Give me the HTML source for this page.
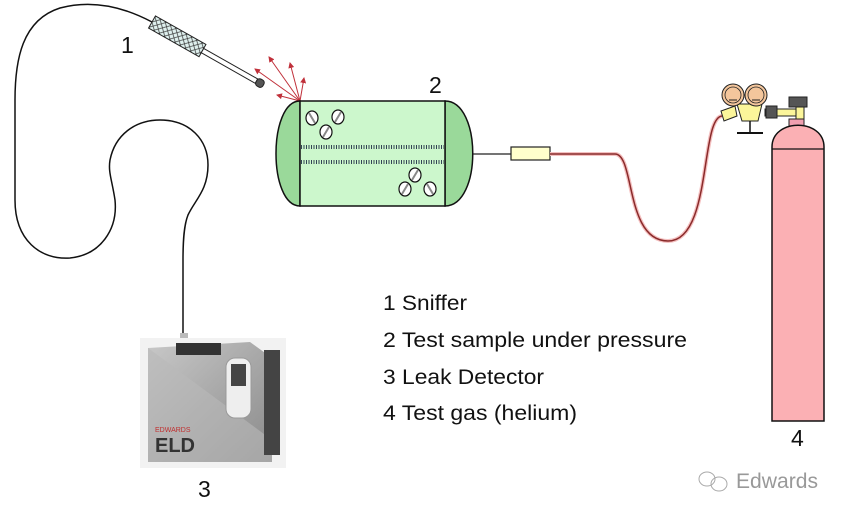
<!DOCTYPE html>
<html><head><meta charset="utf-8"><style>
html,body{margin:0;padding:0;background:#fff;}
svg{display:block;font-family:"Liberation Sans",sans-serif;}
</style></head><body>
<svg width="847" height="515" viewBox="0 0 847 515" xmlns="http://www.w3.org/2000/svg">
<defs>
<pattern id="hatch" width="6" height="6" patternUnits="userSpaceOnUse"><path d="M0,0L6,6M6,0L0,6" stroke="#333" stroke-width="0.7"/></pattern>
<linearGradient id="gb" x1="0" y1="0" x2="1" y2="1"><stop offset="0" stop-color="#c8c8c8"/><stop offset="0.5" stop-color="#a8a8a8"/><stop offset="1" stop-color="#8a8a8a"/></linearGradient>
<marker id="ar" markerWidth="6" markerHeight="6" refX="5" refY="3" orient="auto"><path d="M0,0L6,3L0,6z" fill="#c0303a"/></marker>
</defs>
<path d="M152,22 C120,5 90,0 60,8 C22,20 15,60 15,100 L15,200 C15,240 40,260 70,258 C100,255 118,230 115,200 C112,180 108,172 110,160 C115,135 135,120 160,120 C190,120 208,140 208,165 C208,190 195,200 188,215 C184,225 183,240 183,260 L183,335" fill="none" stroke="#111" stroke-width="1.5"/>
<g transform="translate(152,22) rotate(29.5)">
<rect x="0" y="-7" width="58" height="14" fill="#dff0ee"/><rect x="0" y="-7" width="58" height="14" fill="url(#hatch)" stroke="#222" stroke-width="1"/>
<rect x="58" y="-2.5" width="62" height="5" fill="#fff" stroke="#222" stroke-width="1"/>
<rect x="120" y="-4" width="8" height="8" rx="3" fill="#555" stroke="#222"/>
</g>
<g stroke="#c0303a" stroke-width="1" marker-end="url(#ar)">
<line x1="300" y1="101" x2="277" y2="95"/><line x1="300" y1="101" x2="255" y2="69"/>
<line x1="300" y1="101" x2="269" y2="57"/><line x1="300" y1="101" x2="290" y2="63"/>
<line x1="300" y1="101" x2="304" y2="78"/>
</g>
<path d="M300,101 C268,101 268,206 300,206 Z" fill="#9ad99a" stroke="#111" stroke-width="1.5"/>
<path d="M445,101 C482,101 482,206 445,206 Z" fill="#9ad99a" stroke="#111" stroke-width="1.5"/>
<rect x="300" y="101" width="145" height="105" fill="#ccf7cc" stroke="#111" stroke-width="1.5"/>
<line x1="301" y1="147" x2="444" y2="147" stroke="#345" stroke-width="4" stroke-dasharray="1 1.5"/>
<line x1="301" y1="162" x2="444" y2="162" stroke="#345" stroke-width="4" stroke-dasharray="1 1.5"/>
<g fill="#fff" stroke="#111" stroke-width="1.2">
<ellipse cx="312" cy="118" rx="6" ry="7"/><ellipse cx="338" cy="117" rx="6" ry="7"/><ellipse cx="326" cy="132" rx="6" ry="7"/>
<ellipse cx="415" cy="175" rx="6" ry="7"/><ellipse cx="405" cy="189" rx="6" ry="7"/><ellipse cx="430" cy="189" rx="6" ry="7"/>
</g>
<g stroke="#888" stroke-width="2">
<line x1="309" y1="113" x2="315" y2="123"/><line x1="341" y1="112" x2="335" y2="122"/><line x1="329" y1="127" x2="323" y2="137"/>
<line x1="418" y1="170" x2="412" y2="180"/><line x1="408" y1="184" x2="402" y2="194"/><line x1="427" y1="184" x2="433" y2="194"/>
</g>
<line x1="473" y1="154" x2="511" y2="154" stroke="#222" stroke-width="1.2"/>
<rect x="511" y="147" width="39" height="13" fill="#ffffcc" stroke="#222" stroke-width="1.2"/>
<path d="M550,154 L615,154 C635,154 625,241 668,241 C712,241 700,118 722,116" fill="none" stroke="#f4c0c0" stroke-width="4"/>
<path d="M550,154 L615,154 C635,154 625,241 668,241 C712,241 700,118 722,116" fill="none" stroke="#8a2a2a" stroke-width="1.5"/>
<polygon points="721,111 735,106 737,116 724,121" fill="#fbf59a" stroke="#222"/>
<rect x="765" y="109" width="31" height="7" fill="#fbf59a" stroke="#222"/>
<rect x="766" y="106" width="11" height="12" fill="#555" stroke="#222"/>
<rect x="796" y="106" width="8" height="14" fill="#fbf59a" stroke="#222"/>
<rect x="789" y="97" width="18" height="10" fill="#555" stroke="#222"/>
<polygon points="737,104 762,104 758,121 742,121" fill="#fbf59a" stroke="#222"/>
<line x1="750" y1="121" x2="750" y2="133" stroke="#111" stroke-width="1.5"/>
<line x1="737" y1="133" x2="763" y2="133" stroke="#111" stroke-width="2"/>
<circle cx="733" cy="95" r="11" fill="#f4c69c" stroke="#222"/><circle cx="756" cy="95" r="11" fill="#f4c69c" stroke="#222"/>
<circle cx="733" cy="95" r="8" fill="none" stroke="#222" stroke-width="0.8"/><circle cx="756" cy="95" r="8" fill="none" stroke="#222" stroke-width="0.8"/>
<line x1="729" y1="100" x2="737" y2="100" stroke="#222"/><line x1="752" y1="100" x2="760" y2="100" stroke="#222"/>
<rect x="789" y="119" width="15" height="8" fill="#f0a0b0" stroke="#222"/>
<path d="M772,421 L772,147 C772,118 824,118 824,147 L824,421 Z" fill="#fbb0b4" stroke="#111" stroke-width="1.5"/>
<line x1="772" y1="149" x2="824" y2="149" stroke="#111" stroke-width="1.2"/>
<rect x="180" y="333" width="8" height="8" fill="#bbb"/>
<rect x="140" y="338" width="146" height="130" fill="#f2f2f2"/>
<path d="M148,348 L250,342 L272,358 L272,462 L148,462 Z" fill="url(#gb)"/>
<path d="M148,348 L272,440 L272,462 L148,462 Z" fill="#b9b9b9" opacity="0.6"/>
<rect x="264" y="350" width="16" height="105" fill="#444"/>
<rect x="176" y="343" width="45" height="12" fill="#333"/>
<rect x="226" y="358" width="25" height="60" rx="9" fill="#eee" stroke="#999"/>
<rect x="231" y="364" width="15" height="22" fill="#444"/>
<text x="155" y="432" font-size="7" fill="#c03030">EDWARDS</text>
<text x="155" y="452" font-size="20" font-weight="bold" fill="#333">ELD</text>
<g font-size="23" fill="#111">
<text x="121" y="53">1</text><text x="429" y="93">2</text><text x="198" y="497">3</text><text x="791" y="446">4</text>
</g>
<g font-size="21" fill="#111">
<text x="383" y="310" textLength="84" lengthAdjust="spacingAndGlyphs">1 Sniffer</text>
<text x="383" y="347" textLength="304" lengthAdjust="spacingAndGlyphs">2 Test sample under pressure</text>
<text x="383" y="384" textLength="161" lengthAdjust="spacingAndGlyphs">3 Leak Detector</text>
<text x="383" y="420" textLength="194" lengthAdjust="spacingAndGlyphs">4 Test gas (helium)</text>
</g>
<text x="736" y="488" font-size="21" fill="#999" textLength="82" lengthAdjust="spacingAndGlyphs">Edwards</text>
<g fill="none" stroke="#aaa" stroke-width="1"><ellipse cx="707" cy="479" rx="8" ry="7"/><ellipse cx="719" cy="484" rx="8" ry="7"/></g>
</svg>
</body></html>
